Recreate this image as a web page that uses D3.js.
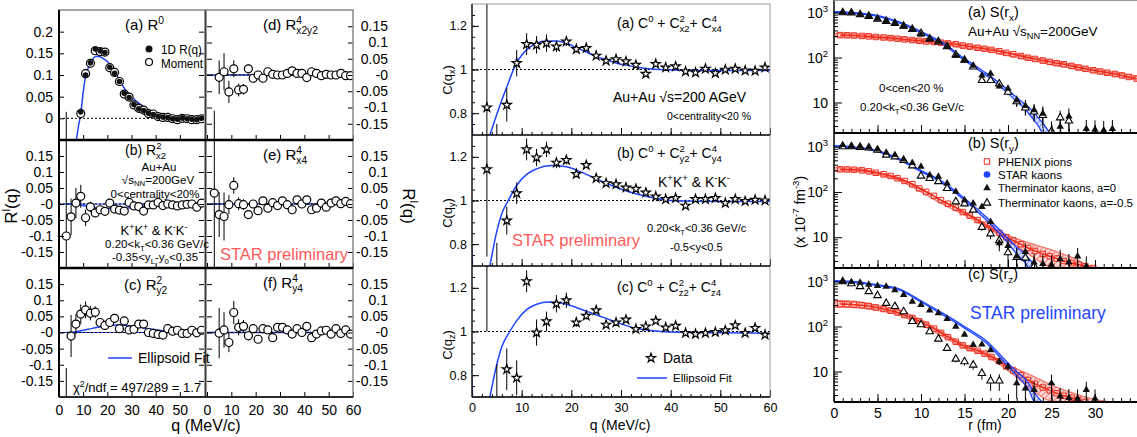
<!DOCTYPE html>
<html>
<head>
<meta charset="utf-8">
<script src="https://cdn.jsdelivr.net/npm/d3@7"></script>
<style>
  body { margin: 0; background: #fff; }
  text { font-family: "Liberation Sans", Arial, Helvetica, sans-serif; }
</style>
</head>
<body>
<svg id="chart"></svg>
<script>
// ---------- data: left block, R^l(q) moments ----------
const qPts = [3,5,7,9,11,13,15,17,19,21,23,25,27,29,31,33,35,37,39,41,43,45,47,49,51,53,55,57,59];

const r0Moment = [-0.3,-0.12,-0.09,0.011,0.103,0.127,0.156,0.154,0.153,0.117,0.106,0.085,0.056,0.049,0.031,0.023,0.019,0.011,0.010,0.004,0.002,0.002,-0.001,-0.003,0.0,-0.001,-0.003,-0.003,-0.001];
const r0Err = [0.315,0.03,0.03,0.012,0.01,0.008,0.006,0.005,0.005,0.004,0.004,0.004,0.003,0.003,0.003,0.003,0.003,0.003,0.003,0.003,0.003,0.003,0.003,0.003,0.003,0.003,0.003,0.003,0.003];
const r01D = [null,null,null,0.015,0.1,0.128,0.16,0.156,0.152,0.118,0.104,0.085,0.058,0.048,0.032,0.022,0.018,0.012,0.009,0.004,0.003,0.002,-0.001,-0.002,0.001,-0.001,-0.002,-0.003,0.0];

const rx2Vals = [-0.100,-0.040,0.003,0.024,-0.043,-0.009,-0.028,-0.018,-0.023,0.003,-0.016,-0.019,-0.022,0.005,-0.006,-0.008,-0.022,-0.003,-0.003,0.005,-0.005,0.0,-0.003,-0.006,-0.003,-0.001,0.0,-0.010,0.003];
const rx2Err = [0.4,0.057,0.047,0.036,0.026,0.016,0.013,0.011,0.009,0.008,0.007,0.007,0.006,0.006,0.006,0.006,0.006,0.005,0.005,0.005,0.005,0.005,0.005,0.005,0.005,0.005,0.005,0.005,0.005];

const ry2Vals = [-0.35,-0.011,0.026,0.057,0.070,0.060,0.063,0.031,0.022,0.031,0.044,0.012,0.036,0.008,0.010,0.026,0.026,0.0,-0.003,-0.006,-0.008,0.012,0.004,0.007,-0.003,-0.003,0.007,-0.001,0.007];
const ry2Err = [0.24,0.065,0.032,0.03,0.026,0.022,0.018,0.013,0.011,0.01,0.008,0.008,0.007,0.007,0.006,0.006,0.006,0.005,0.005,0.005,0.005,0.005,0.005,0.005,0.005,0.005,0.005,0.005,0.005];

const rx2y2Vals = [-0.4,-0.007,0.010,-0.052,0.019,-0.046,-0.044,0.019,-0.010,0.0,-0.010,0.010,0.002,0.0,0.0,0.005,0.013,0.005,0.005,-0.008,0.010,0.005,-0.002,0.002,0.0,0.0,0.005,-0.002,-0.002];
const rx2y2Err = [0.29,0.052,0.057,0.034,0.026,0.02,0.016,0.014,0.01,0.008,0.007,0.007,0.006,0.006,0.006,0.006,0.006,0.006,0.006,0.006,0.006,0.006,0.006,0.006,0.006,0.006,0.006,0.006,0.006];

const rx4Vals = [0.034,-0.033,-0.039,-0.002,0.058,0.001,-0.002,-0.033,0.0,-0.021,0.010,-0.013,0.004,-0.005,0.010,-0.002,-0.018,0.013,0.0,0.013,-0.018,-0.013,0.003,-0.010,0.003,0.010,0.001,0.008,0.001];
const rx4Err = [0.4,0.07,0.075,0.03,0.026,0.02,0.017,0.014,0.011,0.009,0.008,0.007,0.006,0.006,0.006,0.006,0.006,0.006,0.006,0.006,0.006,0.006,0.006,0.006,0.006,0.006,0.006,0.006,0.006];

const ry4Vals = [0.5,-0.002,0.008,-0.031,0.062,0.016,0.019,-0.010,0.012,-0.021,0.012,0.008,-0.016,0.016,0.016,0.008,-0.005,0.012,0.0,0.019,-0.016,-0.005,0.005,0.007,-0.005,0.012,-0.003,0.008,-0.005];
const ry4Err = [0.1,0.078,0.055,0.03,0.036,0.025,0.02,0.015,0.012,0.01,0.008,0.007,0.006,0.006,0.006,0.006,0.006,0.006,0.006,0.006,0.006,0.006,0.006,0.006,0.006,0.006,0.006,0.006,0.006];

// ellipsoid fit curves
const fitR0Q = [7.2,8,9,10,11,12,13,14,15.5,17,18,20,22,25,28,30,33,35,40,45,50,55,60];
const fitR0V = [-0.05,-0.02,0.011,0.06,0.097,0.115,0.127,0.137,0.143,0.142,0.139,0.131,0.118,0.088,0.062,0.05,0.035,0.027,0.011,0.003,-0.002,-0.004,-0.004];
const fitRx2Q = [3,5,8,12,16,20,25,30,35,40,45,60];
const fitRx2V = [0,0,-0.002,-0.008,-0.012,-0.014,-0.014,-0.012,-0.007,-0.002,0,0];
const fitRy2Q = [3,5,8,12,16,20,24,28,32,37,42,47,52,60];
const fitRy2V = [0,0,0.004,0.01,0.016,0.021,0.023,0.022,0.018,0.012,0.006,0.002,0,0];
const fitFlatQ = [0,60];
const fitFlatV = [0,0];

// ---------- data: middle block, C(q) ----------
const cxVals = [0.826,0.5,0.838,1.029,1.116,1.113,1.121,1.105,1.128,1.093,1.098,1.063,1.040,1.047,1.037,1.021,0.980,1.025,1.009,1.014,0.991,0.986,1.003,0.983,0.999,1.003,0.995,0.994,1.009];
const cxErr = [0.6,0.25,0.076,0.06,0.05,0.04,0.04,0.025,0.02,0.015,0.013,0.012,0.01,0.01,0.009,0.009,0.008,0.008,0.008,0.007,0.007,0.007,0.007,0.007,0.007,0.007,0.007,0.007,0.007];
const cyVals = [1.143,0.45,0.908,1.033,1.234,1.197,1.234,1.173,1.185,1.121,1.162,1.102,1.079,1.074,1.059,1.053,1.036,1.018,1.006,1.011,0.976,1.006,1.006,1.011,0.988,1.006,0.997,1.003,1.0];
const cyErr = [0.4,0.356,0.064,0.05,0.05,0.04,0.035,0.025,0.02,0.015,0.013,0.012,0.01,0.01,0.009,0.009,0.008,0.008,0.008,0.007,0.007,0.007,0.007,0.007,0.007,0.007,0.007,0.007,0.007];
const czVals = [1.5,0.55,0.827,0.788,1.23,0.995,1.046,1.127,1.143,1.041,1.072,1.097,1.031,1.041,1.054,1.011,1.023,1.049,1.018,1.026,0.993,0.988,0.993,0.997,1.005,1.028,0.993,1.016,0.985];
const czErr = [0.5,0.3,0.096,0.08,0.05,0.06,0.045,0.04,0.035,0.02,0.018,0.015,0.012,0.01,0.009,0.009,0.008,0.008,0.008,0.007,0.007,0.007,0.007,0.007,0.007,0.007,0.007,0.007,0.007];

const fitStubQ = [0, 0.15];
const fitStubV = [0.8, 0.65];
const fitCxQ = [3.6,5.3,7,8,9,10,11,13,15,17,19,21,23,25,27,29,31,33,35,38,42,50,60];
const fitCxV = [0.70,0.815,0.92,0.98,1.03,1.065,1.09,1.12,1.13,1.13,1.12,1.1,1.08,1.06,1.045,1.03,1.02,1.012,1.005,1.0,0.997,0.995,0.995];
const fitCyQ = [3.6,5,6,7.3,9,11,13,16,19,22,25,28,31,34,37,40,45,60];
const fitCyV = [0.70,0.86,0.94,1.0,1.07,1.12,1.145,1.16,1.155,1.13,1.1,1.07,1.045,1.025,1.01,1.0,0.996,0.995];
const fitCzQ = [3.6,5,6,7.6,9,11,13,15.5,18,21,24,27,30,33,36,40,50,60];
const fitCzV = [0.7,0.85,0.93,1.0,1.05,1.1,1.125,1.135,1.13,1.11,1.085,1.06,1.035,1.015,1.005,0.998,0.994,0.992];

// ---------- data: right block, source functions S(r) ----------
const phR = [0.7,1.5,2.3,3.2,4.0,4.8,5.7,6.5,7.3,8.1,9.0,9.8,10.6,11.5,12.3,13.1,14.0,14.8,15.6,16.5,17.3,18.1,19.0,19.8,20.6,21.5,22.3,23.1,24.0,24.8,25.6,26.4,27.3,28.1,28.9,29.8,30.6,31.4,32.3,33.1,33.9,34.8];
const phX = [315,312,308,302,295,286,279,270,262,253,244,235,228,221,214,206,198,184,175,165,156,148,138,127,118,108,99,93,86,80,75,71,65,60,56,52,49,46,43,40,37,34];
const phY = [316,314,310,300,285,265,245,225,200,175,148,120,100,82,66,55,45,36,30,24,19,15.5,12.5,10,8.5,7,5.8,5,4.3,3.8,3.4,3.0,2.7,2.5,2.3,2.1,1.9,1.8,1.7,1.6,1.5,1.4];
const phZ = [315,312,305,297,285,265,245,225,205,180,155,130,110,90,72,58,46,38,33,29,25,21,17,13,10.5,8.3,6.5,5.3,4.4,3.8,3.3,2.9,2.6,2.3,2.1,1.9,1.8,1.7,1.6,1.5,1.4,1.3];

const bandR = [0,2.5,5,7.5,10,12.5,15,17.5,20,22.5,25,27.5,30,32.5,35];
const phXLo = [290,280,265,240,215,195,165,140,110,88,70,57,46,38,31];
const phXHi = [345,335,310,285,255,230,198,168,132,106,86,70,56,46,38];
const phYLo = [290,285,240,180,100,54,31,16.5,8.5,4.1,2.2,1.5,1.2,1,1];
const phYHi = [345,335,275,205,120,63,37,19.5,11,7.4,5.3,3.5,2.2,1.5,1];
const phZLo = [270,265,230,180,110,60,33,22,10.5,4.3,2.2,1.5,1.2,1,1];
const phZHi = [380,360,290,225,140,74,40,26,14,8.5,5,3.3,2.4,1.8,1];

const kR = [0,2.5,5,7.5,10,12.5,15,17.5,20,21,22,22.5,23,23.5,24,25,35];
const kXLo = [1000,950,820,585,355,197,86,40,16,10.5,7,5.3,4,3,2.1,1,1];
const kXHi = [1050,1000,860,620,380,215,95,45,19,13,9,7.5,6,4.5,3.5,2,1];
const kYLo = [1000,930,776,510,280,155,66,24,7.4,4.3,2.7,2.0,1.5,1,1,1,1];
const kYHi = [1050,980,820,545,300,168,73,28,9.6,6,4.2,3.2,2.5,1.8,1.2,1,1];
const kZLo = [1000,950,815,650,350,182,92,43,13,8,5,3.5,2.2,1.5,1,1,1];
const kZHi = [1050,1000,850,690,375,198,100,48,15.5,10,6.8,5,3.5,2.6,2.1,1.5,1];

const rTri = [1,2,3,4,5,6,7,8,9,10,11,12,13,14,15,16,17,18,19,20,21,22,23,24,25,26,27,28,29,30,31,32];
const thXa0 = [1000,990,890,820,730,635,585,495,420,325,253,232,172,109,86,66,40,44,23,20.5,11.2,8.4,6.8,5.7,1.8,2.9,4.9,1.6,2.6,2.5,2.4,2.6];
const thXa0Err = [15,15,13,12,11,10,9,8,7,6,6,5,4,3,3,3,3,3,2.5,2.5,3,3,2.5,2.5,1.5,1.5,2.5,1.5,1.5,1.5,1.5,1.5];
const thXa5 = [1000,985,900,830,720,640,575,500,425,345,260,225,175,115,88,62,31,31,26,17,10.5,7.6,6.2,5.2,2.3,4.6,3.9,1.5,1.5,1.5,1.5,1.5];
const thXa5Err = [15,15,13,12,11,10,9,8,7,6,6,5,4,3,3,3,3,3,3,2.5,2.5,2.5,2.5,2.5,1.5,2,2,1,1,1,1,1];
const thYa0 = [1090,1015,1000,970,875,740,655,525,440,362,237,218,155,102,66,56,47,22,7.4,6.5,3.8,4.8,2.8,2.6,2.5,3.3,2.8,3.8,2.3,1.5,1.5,1.5];
const thYa0Err = [15,15,13,12,11,10,9,8,7,6,6,5,4,3,3,3,3,3,2.5,2.5,2,2.5,1.5,1.5,1.5,2,1.5,2,1.5,1,1,1];
const thYa5 = [1000,1000,970,940,840,655,600,500,380,225,200,170,120,61,55,40,16.7,12,8.5,4.6,3.6,3.5,2.3,1.5,1.5,1.5,1.5,1.5,1.5,1.5,1.5,1.5];
const thYa5Err = [15,15,13,12,11,10,9,8,7,6,6,5,4,3,3,3,3,3,2.5,2.5,2,2,1.5,1,1,1,1,1,1,1,1,1];
const thZa0 = [1000,980,950,860,800,775,645,505,360,305,230,200,148,100,66,39,40,30,16.6,12.9,5.5,4.2,3.9,1.5,5.5,2.8,2.6,2.5,3.9,2.5,1.5,1.5];
const thZa0Err = [15,15,13,12,11,10,9,8,7,6,6,5,4,3,3,3,3,3,2.5,2.5,3,2,2,1,3,1.5,1.5,1.5,2,1.5,1,1];
const thZa5 = [1000,900,775,600,490,330,280,215,130,110,77,53,33,19,16.6,14,9.1,6.2,6.2,1.5,1.5,1.5,1.5,1.5,1.5,1.5,1.5,1.5,1.5,1.5,1.5,1.5];
const thZa5Err = [15,15,13,12,11,10,9,8,7,6,5,4,3,3,3,3,2.5,2.5,2.5,1,1,1,1,1,1,1,1,1,1,1,1,1];

// ---------- helpers ----------
const W = 1137, H = 437;
const BLUE = '#1f45ff', RED = '#ee2a1a';
const svg = d3.select('#chart').attr('width', W).attr('height', H);
const defs = svg.append('defs');
let nClip = 0;

function clipUrl(x0, y0, x1, y1) {
  const id = 'clip' + (nClip++);
  defs.append('clipPath').attr('id', id).append('rect')
    .attr('x', x0).attr('y', y0).attr('width', x1 - x0).attr('height', y1 - y0);
  return `url(#${id})`;
}

function hatch(id, color) {
  const p = defs.append('pattern').attr('id', id).attr('patternUnits', 'userSpaceOnUse')
    .attr('width', 4).attr('height', 4).attr('patternTransform', 'rotate(45)');
  p.append('rect').attr('width', 4).attr('height', 4).attr('fill', color).attr('fill-opacity', 0.18);
  p.append('line').attr('x1', 0).attr('y1', 0).attr('x2', 0).attr('y2', 4)
    .attr('stroke', color).attr('stroke-width', 1);
}
hatch('hatchRed', RED);
hatch('hatchBlue', BLUE);

// text with super/subscripts: parts are strings or [text, 'sup'|'sub', dx]
function rich(g, x, y, parts, size, opt = {}) {
  const t = g.append('text').attr('x', x).attr('y', y)
    .attr('font-size', size)
    .attr('text-anchor', opt.anchor || 'start')
    .attr('fill', opt.color || '#000')
    .style('white-space', 'pre');
  if (opt.family) t.attr('font-family', opt.family);
  if (opt.rotate) t.attr('transform', `rotate(${opt.rotate},${x},${y})`);
  let shift = 0;
  parts.forEach(p => {
    const [s, kind, dx] = Array.isArray(p) ? p : [p];
    const target = kind === 'sup' ? -0.42 * size : kind === 'sub' ? 0.25 * size : 0;
    const ts = t.append('tspan').attr('dy', target - shift)
      .attr('font-size', kind ? size * 0.68 : size).text(s);
    if (dx) ts.attr('dx', dx);
    shift = target;
  });
  return t;
}

function label(g, x, y, s, size, len, color) {
  const t = g.append('text').attr('x', x).attr('y', y).attr('font-size', size)
    .attr('fill', color || '#000').text(s);
  if (len) t.attr('textLength', len).attr('lengthAdjust', 'spacingAndGlyphs');
  return t;
}

function styleAxis(sel, size) {
  sel.select('.domain').remove();
  sel.selectAll('.tick line').attr('stroke', '#000').attr('stroke-width', 1);
  sel.selectAll('.tick text').attr('font-size', size)
    .attr('font-family', '"Liberation Sans", Arial, sans-serif').attr('fill', '#000');
}

function rows(xs, ys, es) {
  return xs.map((x, i) => ({ x, v: ys[i], e: es ? es[i] : 0 })).filter(d => d.v != null);
}

function errBars(g, data, x, y, lowFloor) {
  g.append('g').selectAll('line').data(data).join('line')
    .attr('x1', d => x(d.x)).attr('x2', d => x(d.x))
    .attr('y1', d => y(lowFloor ? Math.max(d.v - d.e, lowFloor) : d.v - d.e))
    .attr('y2', d => y(d.v + d.e))
    .attr('stroke', '#000').attr('stroke-width', 1);
}

function curve(g, xs, ys, x, y, color, width, dash) {
  const line = d3.line().x(d => x(d[0])).y(d => y(d[1])).curve(d3.curveMonotoneX);
  g.append('path').datum(xs.map((q, i) => [q, ys[i]])).attr('d', line)
    .attr('fill', 'none').attr('stroke', color).attr('stroke-width', width || 1.5)
    .attr('stroke-dasharray', dash || null);
}

// ---------- left block ----------
const gL = svg.append('g');
const xL1 = d3.scaleLinear().domain([0, 60]).range([59, 204]);
const xL2 = d3.scaleLinear().domain([0, 60]).range([207, 353]);
const yLa = d3.scaleLinear().domain([-0.05, 0.25]).range([140, 10]);
const yLb = d3.scaleLinear().domain([-0.2, 0.2]).range([268, 140]);
const yLc = d3.scaleLinear().domain([-0.2, 0.2]).range([397, 268]);
const yLd = d3.scaleLinear().domain([-0.2, 0.2]).range([140, 10]);
const ticksSym = [-0.15, -0.1, -0.05, 0, 0.05, 0.1, 0.15];
const fmtR = v => v === 0 ? '-0' : String(+v.toFixed(2));

function rPanel(x, y, vals, errs, fitQ, fitV, fitColor, o) {
  const [y1, y0] = y.range();
  const [x0, x1] = x.range();
  const g = gL.append('g').attr('clip-path', clipUrl(x0, y0, x1, y1));
  curve(g, fitQ, fitV, x, y, fitColor, 1.5);
  if (o.blueZero) curve(g, fitFlatQ, fitFlatV, x, y, BLUE, 1.2);
  g.append('line').attr('x1', x0).attr('x2', x1).attr('y1', y(0)).attr('y2', y(0))
    .attr('stroke', '#000').attr('stroke-width', 1).attr('stroke-dasharray', '2,2');
  const data = rows(qPts, vals, errs);
  errBars(g, data, x, y);
  g.append('g').selectAll('circle').data(data).join('circle')
    .attr('cx', d => x(d.x)).attr('cy', d => y(d.v)).attr('r', 4)
    .attr('fill', '#fff').attr('stroke', '#000').attr('stroke-width', 1.2);
  if (o.dots) {
    g.append('g').selectAll('circle').data(rows(qPts, o.dots)).join('circle')
      .attr('cx', d => x(d.x)).attr('cy', d => y(d.v)).attr('r', 2.8).attr('fill', '#111');
  }
  // ticks inward on both sides and bottom
  const tv = o.tickVals || ticksSym;
  const aL = gL.append('g').attr('transform', `translate(${x0},0)`)
    .call(d3.axisLeft(y).tickValues(tv).tickSize(-5).tickPadding(6).tickFormat(o.leftLabels ? o.fmt || fmtR : ''));
  styleAxis(aL, 14);
  const aR = gL.append('g').attr('transform', `translate(${x1},0)`)
    .call(d3.axisRight(y).tickValues(tv).tickSize(-5).tickPadding(6).tickFormat(o.rightLabels ? fmtR : ''));
  styleAxis(aR, 14);
  if (o.rightLabels) aR.selectAll('.tick text').attr('text-anchor', 'end').attr('x', 35);
  const aB = gL.append('g').attr('transform', `translate(0,${y1})`)
    .call(d3.axisBottom(x).tickValues(o.xTicks).tickSize(-5).tickPadding(8).tickFormat(o.bottomLabels ? d3.format('d') : ''));
  styleAxis(aB, 14);
  return g;
}

const xTicksL = [0, 10, 20, 30, 40, 50];
const xTicksR = [0, 10, 20, 30, 40, 50, 60];
rPanel(xL1, yLa, r0Moment, r0Err, fitR0Q, fitR0V, BLUE, { dots: r01D, leftLabels: true, tickVals: [0, 0.05, 0.1, 0.15, 0.2], fmt: v => String(+v.toFixed(2)), xTicks: xTicksL });
rPanel(xL1, yLb, rx2Vals, rx2Err, fitRx2Q, fitRx2V, BLUE, { leftLabels: true, blueZero: true, xTicks: xTicksL });
rPanel(xL1, yLc, ry2Vals, ry2Err, fitRy2Q, fitRy2V, BLUE, { leftLabels: true, blueZero: true, xTicks: xTicksL, bottomLabels: true });
rPanel(xL2, yLd, rx2y2Vals, rx2y2Err, fitFlatQ, fitFlatV, '#1a2fb0', { rightLabels: true, xTicks: xTicksR });
rPanel(xL2, yLb, rx4Vals, rx4Err, fitFlatQ, fitFlatV, '#1a2fb0', { rightLabels: true, xTicks: xTicksR });
rPanel(xL2, yLc, ry4Vals, ry4Err, fitFlatQ, fitFlatV, '#1a2fb0', { rightLabels: true, xTicks: xTicksR, bottomLabels: true });

// frames of left block
gL.append('rect').attr('x', 59).attr('y', 10).attr('width', 294).attr('height', 387)
  .attr('fill', 'none').attr('stroke', '#888').attr('stroke-width', 1.5);
gL.append('line').attr('x1', 205.5).attr('x2', 205.5).attr('y1', 10).attr('y2', 397).attr('stroke', '#999').attr('stroke-width', 3);
gL.append('line').attr('x1', 205.5).attr('x2', 205.5).attr('y1', 10).attr('y2', 397).attr('stroke', '#222').attr('stroke-width', 0.8);
gL.append('line').attr('x1', 59).attr('x2', 59).attr('y1', 10).attr('y2', 397).attr('stroke', '#000').attr('stroke-width', 2);
[140, 268].forEach(yy => gL.append('line').attr('x1', 59).attr('x2', 353).attr('y1', yy).attr('y2', yy).attr('stroke', '#000').attr('stroke-width', 2.5));
gL.append('line').attr('x1', 59).attr('x2', 353).attr('y1', 397).attr('y2', 397).attr('stroke', '#000').attr('stroke-width', 1.5);

// left block labels
rich(gL, 125, 30, ['(a) R', ['0', 'sup']], 15);
gL.append('circle').attr('cx', 149).attr('cy', 49).attr('r', 3.5).attr('fill', '#111');
label(gL, 161, 53.5, '1D R(q)', 13, 41);
gL.append('circle').attr('cx', 149).attr('cy', 62).attr('r', 3.5).attr('fill', '#fff').attr('stroke', '#000').attr('stroke-width', 1.2);
label(gL, 161, 67.5, 'Moment', 13, 42);
rich(gL, 125, 155, ['(b) R', ['2', 'sup'], ['x2', 'sub', -5.4]], 14);
gL.append('text').attr('x', 159).attr('y', 171).attr('font-size', 11.5).attr('text-anchor', 'middle').text('Au+Au');
rich(gL, 158, 183.5, ['\u221As', ['NN', 'sub'], '=200GeV'], 11.5, { anchor: 'middle' });
gL.append('text').attr('x', 155).attr('y', 197.5).attr('font-size', 11.5).attr('text-anchor', 'middle').text('0<centrality<20%');
rich(gL, 154, 235, ['K', ['+', 'sup'], 'K', ['+', 'sup'], ' & K', ['-', 'sup'], 'K', ['-', 'sup']], 13, { anchor: 'middle', family: '"Liberation Serif", "Times New Roman", serif' });
rich(gL, 157, 248, ['0.20<k', ['T', 'sub'], '<0.36 GeV/c'], 11.5, { anchor: 'middle' });
rich(gL, 155, 261, ['-0.35<y', ['L', 'sub'], '-y', ['0', 'sub'], '<0.35'], 11.5, { anchor: 'middle' });
rich(gL, 124, 290, ['(c) R', ['2', 'sup'], ['y2', 'sub', -5.7]], 15);
gL.append('line').attr('x1', 108).attr('x2', 132).attr('y1', 358).attr('y2', 358).attr('stroke', BLUE).attr('stroke-width', 1.5);
gL.append('text').attr('x', 138).attr('y', 363).attr('font-size', 14).text('Ellipsoid Fit');
rich(gL, 73, 392, ['\u03C7', ['2', 'sup'], '/ndf = 497/289 = 1.7'], 13);
rich(gL, 263, 30, ['(d) R', ['4', 'sup'], ['x2y2', 'sub', -5.7]], 15);
rich(gL, 263, 160, ['(e) R', ['4', 'sup'], ['x4', 'sub', -5.7]], 15);
rich(gL, 263, 288, ['(f) R', ['4', 'sup'], ['y4', 'sub', -5.7]], 15);
gL.append('text').attr('x', 220).attr('y', 260).attr('font-size', 16.5).attr('fill', '#ff5a5a').text('STAR preliminary');
rich(gL, 17, 206, ['R', ['l', 'sup'], '(q)'], 17, { anchor: 'middle', rotate: -90 });
rich(gL, 403, 206, ['R', ['l', 'sup'], '(q)'], 17, { anchor: 'middle', rotate: 90 });
gL.append('text').attr('x', 206).attr('y', 431).attr('font-size', 16).attr('text-anchor', 'middle').text('q (MeV/c)');

// ---------- middle block ----------
const gM = svg.append('g');
const xM = d3.scaleLinear().domain([0, 60]).range([472, 770]);
const yMa = d3.scaleLinear().domain([0.7, 1.3]).range([135, 4]);
const yMb = d3.scaleLinear().domain([0.7, 1.3]).range([266, 135]);
const yMc = d3.scaleLinear().domain([0.7, 1.3]).range([397, 266]);
const starSym = d3.symbol().type(d3.symbolStar).size(26);

function cPanel(y, vals, errs, fitQ, fitV, bottomLabels) {
  const [y1, y0] = y.range();
  const g = gM.append('g').attr('clip-path', clipUrl(472, y0, 770, y1));
  g.append('line').attr('x1', 472).attr('x2', 770).attr('y1', y(1)).attr('y2', y(1))
    .attr('stroke', '#000').attr('stroke-width', 1).attr('stroke-dasharray', '2,2');
  curve(g, fitStubQ, fitStubV, xM, y, BLUE, 1.5);
  curve(g, fitQ, fitV, xM, y, BLUE, 1.5);
  const data = rows(qPts, vals, errs);
  errBars(g, data, xM, y);
  g.append('g').selectAll('path').data(data).join('path').attr('d', starSym)
    .attr('transform', d => `translate(${xM(d.x)},${y(d.v)})`)
    .attr('fill', '#fff').attr('stroke', '#000').attr('stroke-width', 1.2);
  const aL = gM.append('g').attr('transform', 'translate(472,0)')
    .call(d3.axisLeft(y).tickValues([0.8, 1, 1.2]).tickSize(-7).tickPadding(5).tickFormat(d3.format('')));
  styleAxis(aL, 12.5);
  const aLm = gM.append('g').attr('transform', 'translate(472,0)')
    .call(d3.axisLeft(y).tickValues(d3.range(0.75, 1.3, 0.05)).tickSize(-3).tickFormat(''));
  styleAxis(aLm, 10);
  const aB = gM.append('g').attr('transform', `translate(0,${y1})`)
    .call(d3.axisBottom(xM).tickValues(d3.range(0, 61, 10)).tickSize(-7).tickPadding(6).tickFormat(bottomLabels ? d3.format('d') : ''));
  styleAxis(aB, 12.5);
  const aBm = gM.append('g').attr('transform', `translate(0,${y1})`)
    .call(d3.axisBottom(xM).tickValues(d3.range(2, 60, 2)).tickSize(-3).tickFormat(''));
  styleAxis(aBm, 10);
}

cPanel(yMa, cxVals, cxErr, fitCxQ, fitCxV, false);
cPanel(yMb, cyVals, cyErr, fitCyQ, fitCyV, false);
cPanel(yMc, czVals, czErr, fitCzQ, fitCzV, true);

gM.append('rect').attr('x', 472).attr('y', 4).attr('width', 298).attr('height', 393)
  .attr('fill', 'none').attr('stroke', '#999').attr('stroke-width', 1);
gM.append('line').attr('x1', 472).attr('x2', 472).attr('y1', 4).attr('y2', 397).attr('stroke', '#000').attr('stroke-width', 1.2);
[135, 266, 397].forEach(yy => gM.append('line').attr('x1', 472).attr('x2', 770).attr('y1', yy).attr('y2', yy).attr('stroke', '#000').attr('stroke-width', 1.5));

rich(gM, 617, 28, ['(a) C', ['0', 'sup'], ' + C', ['2', 'sup'], ['x2', 'sub', -5.3], '+ C', ['4', 'sup'], ['x4', 'sub', -5.3]], 14);
gM.append('text').attr('x', 613).attr('y', 102).attr('font-size', 14).text('Au+Au \u221As=200 AGeV');
gM.append('text').attr('x', 667).attr('y', 120).attr('font-size', 10.5).text('0<centrality<20 %');
rich(gM, 617, 158, ['(b) C', ['0', 'sup'], ' + C', ['2', 'sup'], ['y2', 'sub', -5.3], '+ C', ['4', 'sup'], ['y4', 'sub', -5.3]], 14);
rich(gM, 658, 187, ['K', ['+', 'sup'], 'K', ['+', 'sup'], ' & K', ['-', 'sup'], 'K', ['-', 'sup']], 14);
rich(gM, 647, 232, ['0.20<k', ['T', 'sub'], '<0.36 GeV/c'], 11);
gM.append('text').attr('x', 670).attr('y', 251).attr('font-size', 11).text('-0.5<y<0.5');
gM.append('text').attr('x', 512).attr('y', 246).attr('font-size', 16.5).attr('fill', '#ff5a5a').text('STAR preliminary');
rich(gM, 617, 292, ['(c) C', ['0', 'sup'], ' + C', ['2', 'sup'], ['z2', 'sub', -5.3], '+ C', ['4', 'sup'], ['z4', 'sub', -5.3]], 14);
gM.append('path').attr('d', starSym).attr('transform', 'translate(651,358)')
  .attr('fill', '#fff').attr('stroke', '#000').attr('stroke-width', 1.2);
gM.append('text').attr('x', 663).attr('y', 363).attr('font-size', 14).text('Data');
gM.append('line').attr('x1', 637).attr('x2', 667).attr('y1', 378).attr('y2', 378).attr('stroke', BLUE).attr('stroke-width', 1.5);
gM.append('text').attr('x', 673).attr('y', 382).attr('font-size', 11.5).text('Ellipsoid Fit');
rich(gM, 452, 80, ['C(q', ['x', 'sub'], ')'], 13, { anchor: 'middle', rotate: -90 });
rich(gM, 452, 213, ['C(q', ['y', 'sub'], ')'], 13, { anchor: 'middle', rotate: -90 });
rich(gM, 452, 345, ['C(q', ['z', 'sub'], ')'], 13, { anchor: 'middle', rotate: -90 });
gM.append('text').attr('x', 620).attr('y', 430).attr('font-size', 14).attr('text-anchor', 'middle').text('q (MeV/c)');

// ---------- right block ----------
const gR = svg.append('g');
const xR = d3.scaleLinear().domain([0, 35]).range([834, 1138.5]);
const yRa = d3.scaleLog().domain([2.1, 2000]).range([133, -1]).clamp(true);
const yRb = d3.scaleLog().domain([2.1, 2000]).range([268, 133]).clamp(true);
const yRc = d3.scaleLog().domain([2.1, 2000]).range([402, 268]).clamp(true);
const triSym = d3.symbol().type(d3.symbolTriangle).size(24);
const sqSym = d3.symbol().type(d3.symbolSquare).size(30);

function band(g, xs, lo, hi, y, fill, color) {
  const area = d3.area().x(d => xR(d[0])).y0(d => y(d[1])).y1(d => y(d[2])).curve(d3.curveMonotoneX);
  g.append('path').datum(xs.map((r, i) => [r, lo[i], hi[i]])).attr('d', area).attr('fill', fill);
  curve(g, xs, lo, xR, y, color, 1.3);
  curve(g, xs, hi, xR, y, color, 1.3);
}

function sPanel(y, ph, phLo, phHi, kLo, kHi, a0, a0Err, a5, a5Err, bottomLabels) {
  const [y1, y0] = y.range();
  const lo = y.domain()[0];
  const g = gR.append('g').attr('clip-path', clipUrl(834, Math.max(y0, 0), 1137, y1));
  band(g, bandR, phLo, phHi, y, 'url(#hatchRed)', '#f07a70');
  curve(g, phR, ph, xR, y, RED, 1.5);
  g.append('g').selectAll('path').data(rows(phR, ph).filter(d => d.v >= lo)).join('path')
    .attr('d', sqSym).attr('transform', d => `translate(${xR(d.x)},${y(d.v)})`)
    .attr('fill', 'none').attr('stroke', RED).attr('stroke-width', 1);
  band(g, kR, kLo, kHi, y, 'url(#hatchBlue)', BLUE);
  const d0 = rows(rTri, a0, a0Err).filter(d => d.v >= lo);
  const d5 = rows(rTri, a5, a5Err).filter(d => d.v >= lo);
  errBars(g, d0, xR, y, 0.5);
  errBars(g, d5, xR, y, 0.5);
  g.append('g').selectAll('path').data(d5).join('path').attr('d', triSym)
    .attr('transform', d => `translate(${xR(d.x)},${y(d.v)})`)
    .attr('fill', '#fff').attr('stroke', '#000').attr('stroke-width', 1.1);
  g.append('g').selectAll('path').data(d0).join('path').attr('d', triSym)
    .attr('transform', d => `translate(${xR(d.x)},${y(d.v)})`).attr('fill', '#111');
  // axes
  const aL = gR.append('g').attr('transform', 'translate(834,0)')
    .call(d3.axisLeft(y).tickValues([10, 100, 1000]).tickSize(-8).tickPadding(6).tickFormat(''));
  styleAxis(aL, 14);
  const minor = [3, 4, 5, 6, 7, 8, 9, 20, 30, 40, 50, 60, 70, 80, 90, 200, 300, 400, 500, 600, 700, 800, 900];
  const aLm = gR.append('g').attr('transform', 'translate(834,0)')
    .call(d3.axisLeft(y).tickValues(minor).tickSize(-4).tickFormat(''));
  styleAxis(aLm, 10);
  [[10, null], [100, '2'], [1000, '3']].forEach(([v, e]) => {
    rich(gR, 828, y(v) + 5, e ? ['10', [e, 'sup']] : ['10'], 14, { anchor: 'end' });
  });
  const aB = gR.append('g').attr('transform', `translate(0,${y1})`)
    .call(d3.axisBottom(xR).tickValues(d3.range(0, 35, 5)).tickSize(-8).tickPadding(6).tickFormat(bottomLabels ? d3.format('d') : ''));
  styleAxis(aB, 14);
  const aBm = gR.append('g').attr('transform', `translate(0,${y1})`)
    .call(d3.axisBottom(xR).tickValues(d3.range(1, 35, 1)).tickSize(-4).tickFormat(''));
  styleAxis(aBm, 10);
}

sPanel(yRa, phX, phXLo, phXHi, kXLo, kXHi, thXa0, thXa0Err, thXa5, thXa5Err, false);
sPanel(yRb, phY, phYLo, phYHi, kYLo, kYHi, thYa0, thYa0Err, thYa5, thYa5Err, false);
sPanel(yRc, phZ, phZLo, phZHi, kZLo, kZHi, thZa0, thZa0Err, thZa5, thZa5Err, true);

gR.append('line').attr('x1', 834).attr('x2', 834).attr('y1', 0).attr('y2', 402).attr('stroke', '#000').attr('stroke-width', 1.5);
gR.append('line').attr('x1', 834).attr('x2', 1137).attr('y1', 0.5).attr('y2', 0.5).attr('stroke', '#999').attr('stroke-width', 1);
[133, 268, 402].forEach(yy => gR.append('line').attr('x1', 834).attr('x2', 1137).attr('y1', yy).attr('y2', yy).attr('stroke', '#000').attr('stroke-width', 2));

rich(gR, 968, 17, ['(a) S(r', ['x', 'sub'], ')'], 14.5);
rich(gR, 968, 36, ['Au+Au \u221As', ['NN', 'sub'], '=200GeV'], 13.5);
gR.append('text').attr('x', 879).attr('y', 92).attr('font-size', 11.5).text('0<cen<20 %');
rich(gR, 860, 111, ['0.20<k', ['T', 'sub'], '<0.36 GeV/c'], 11.5);
rich(gR, 968, 148, ['(b) S(r', ['y', 'sub'], ')'], 14.5);
rich(gR, 968, 279, ['(c) S(r', ['z', 'sub'], ')'], 14.5);
gR.append('text').attr('x', 970).attr('y', 319).attr('font-size', 17.5).attr('fill', BLUE).text('STAR preliminary');

// legend
gR.append('path').attr('d', sqSym).attr('transform', 'translate(987,161.5)').attr('fill', 'none').attr('stroke', RED).attr('stroke-width', 1);
label(gR, 998, 165.5, 'PHENIX pions', 11.5, 74);
gR.append('circle').attr('cx', 987).attr('cy', 174.5).attr('r', 3.3).attr('fill', BLUE);
label(gR, 998, 178.5, 'STAR kaons', 11.5, 64);
gR.append('path').attr('d', triSym).attr('transform', 'translate(987,188)').attr('fill', '#111');
label(gR, 998, 192, 'Therminator kaons, a=0', 11.5, 118);
gR.append('path').attr('d', triSym).attr('transform', 'translate(987,203)').attr('fill', '#fff').attr('stroke', '#000').attr('stroke-width', 1.1);
label(gR, 998, 207, 'Therminator kaons, a=-0.5', 11, 135);

rich(gR, 805, 212, ['(x 10', ['-7', 'sup'], ' fm', ['-3', 'sup'], ')'], 14, { anchor: 'middle', rotate: -90 });
gR.append('text').attr('x', 985).attr('y', 430).attr('font-size', 14).attr('text-anchor', 'middle').text('r (fm)');
</script>
</body>
</html>
